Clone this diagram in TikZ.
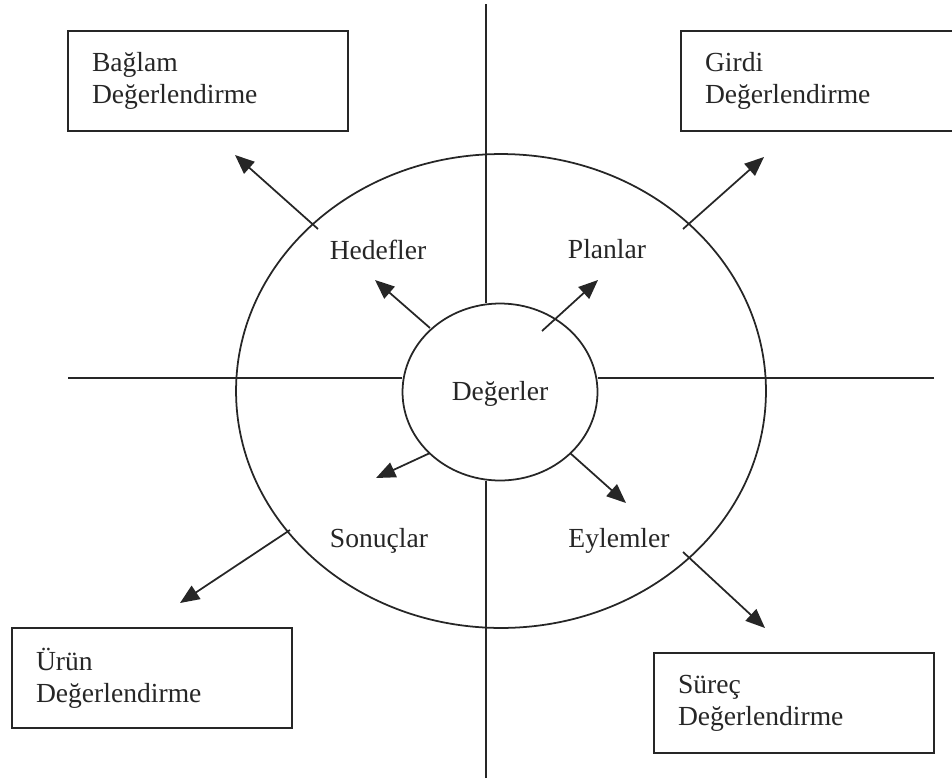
\documentclass[tikz,border=0pt]{standalone}
\usepackage{fontspec}
\setmainfont{Liberation Serif}
\usetikzlibrary{arrows.meta,shapes.geometric}

\begin{document}
\begin{tikzpicture}[x=0.02cm,y=-0.02cm,>={Triangle[length=11pt,width=9pt]},
  line width=1pt,color=black!85,
  eval box/.style={rectangle,draw,minimum width=5.6cm,minimum height=2cm,text width=4.64cm,
    inner xsep=0.48cm,align=left,font=\fontsize{15.7}{18.2}\selectfont},
  ring node/.style={ellipse,draw,inner sep=0pt},
  label node/.style={anchor=base,font=\fontsize{15.7}{18.2}\selectfont}]

  \useasboundingbox (0,0) rectangle (952,781);
  \clip (0,0) rectangle (952,781);

  \node[ring node,minimum width=10.6cm,minimum height=9.48cm] (outer) at (501,391) {};
  \node[ring node,minimum width=3.9cm,minimum height=3.54cm] (inner) at (500,392) {};

  \node[label node] (deger) at (500,400) {Değerler};
  \node[label node] (hedef) at (378,259) {Hedefler};
  \node[label node] (plan) at (607,258) {Planlar};
  \node[label node] (sonuc) at (379,547) {Sonuçlar};
  \node[label node] (eylem) at (619,547) {Eylemler};

  \node[eval box] (baglam) at (208,81) {Bağlam\\Değerlendirme};
  \node[eval box] (girdi) at (821,81) {Girdi\\Değerlendirme};
  \node[eval box] (urun) at (152,678) {Ürün\\Değerlendirme};
  \node[eval box] (surec) at (794,703) {Süreç\\Değerlendirme};

  % axes
  \coordinate (vtop) at (486,4);
  \coordinate (vbot) at (486,778);
  \coordinate (hleft) at (68,378);
  \coordinate (hright) at (934,378);
  \draw (vtop) -- (vtop |- inner.north);
  \draw (vbot) -- (vbot |- inner.south);
  \draw (hleft) -- (hleft -| inner.west);
  \draw (hright) -- (hright -| inner.east);

  % arrow ends
  \coordinate (hed1) at (430,328); \coordinate (hed2) at (375,280);
  \coordinate (hed3) at (318,229); \coordinate (hed4) at (235,155);
  \coordinate (pla1) at (542,331); \coordinate (pla2) at (598,280);
  \coordinate (pla3) at (683,229); \coordinate (pla4) at (764,157);
  \coordinate (son1) at (430,453); \coordinate (son2) at (376,478);
  \coordinate (son3) at (290,530); \coordinate (son4) at (180,603);
  \coordinate (eyl1) at (570,453); \coordinate (eyl2) at (626,503);
  \coordinate (eyl3) at (683,552); \coordinate (eyl4) at (765,628);

  \path[->]
    (hed1) edge (hed2)
    (hed3) edge (hed4)
    (pla1) edge (pla2)
    (pla3) edge (pla4)
    (son1) edge (son2)
    (son3) edge (son4)
    (eyl1) edge (eyl2)
    (eyl3) edge (eyl4) ;

\end{tikzpicture}
\end{document}
